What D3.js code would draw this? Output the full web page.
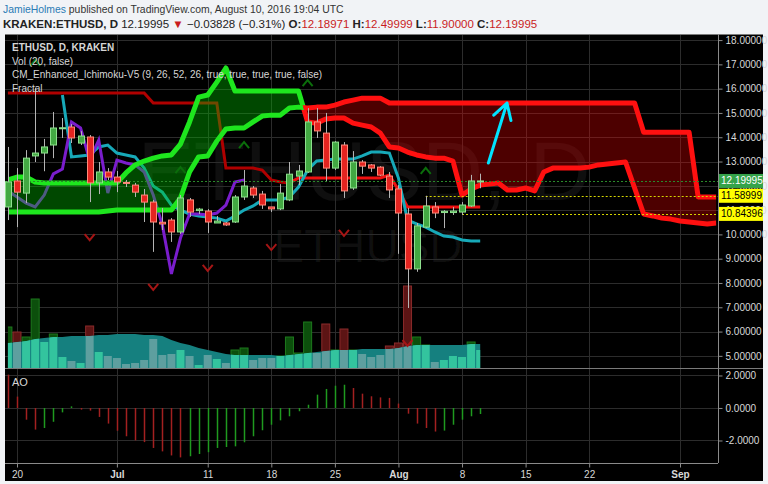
<!DOCTYPE html>
<html>
<head>
<meta charset="utf-8">
<script src="https://cdn.jsdelivr.net/npm/d3@7"></script>
<style>
body { margin: 0; background: #f1f3f6; }
svg { display: block; font-family: "Liberation Sans", Arial, sans-serif; }
</style>
</head>
<body>
<div class="chart"></div>
<script>
// ---- data ----
var firstDay = "2016-06-19";

var openP  = [11.13,12.20,11.70,13.23,13.35,13.68,14.36,14.42,13.76,14.01,12.12,12.57,12.36,12.14,12.03,11.62,11.33,10.50,10.59,10.10,11.42,10.98,10.96,10.47,10.47,10.51,11.54,11.91,11.66,11.13,11.05,11.42,12.40,12.57,14.63,14.17,12.73,13.68,11.91,12.98,12.86,12.77,12.40,11.87,10.84,8.58,10.30,11.13,10.90,10.90,10.92,11.17,12.19];
var highP  = [13.60,12.73,13.47,16.03,13.93,15.04,14.79,14.54,14.25,14.09,12.98,12.73,12.61,12.24,12.12,11.87,11.42,11.09,10.67,11.62,11.50,11.09,11.04,10.76,10.51,11.62,12.65,11.99,11.79,11.13,12.07,12.98,12.86,15.20,15.20,15.00,13.84,13.80,13.43,13.06,12.90,12.81,12.57,12.03,11.09,10.47,11.59,11.33,11.00,11.13,11.33,12.45,12.50];
var lowP   = [10.59,10.30,11.29,12.98,12.60,13.14,13.97,13.76,13.68,11.33,11.66,12.24,11.74,11.95,11.54,10.51,9.28,10.18,9.69,10.02,10.72,10.84,10.06,10.47,10.35,10.47,11.42,11.50,11.05,10.92,11.00,11.37,12.03,12.53,13.97,12.20,12.65,11.50,11.83,12.49,12.57,12.40,11.50,9.20,6.97,8.46,10.26,10.67,10.26,10.80,10.80,11.13,11.90];
var closeP = [12.16,11.74,13.14,13.35,13.60,14.38,14.39,13.97,14.05,12.12,12.57,12.36,12.16,12.10,11.74,11.33,10.51,10.43,10.10,11.50,10.92,11.04,10.51,10.55,10.39,11.54,11.99,11.62,11.21,11.05,11.70,12.48,12.61,14.63,14.26,12.73,13.80,11.79,12.98,12.81,12.73,12.44,11.83,10.88,8.58,10.35,11.17,10.88,10.95,10.96,11.21,12.20,12.20];

var volume   = [41,36,31,69,26,34,11,7,5,42,16,12,10,4,5,8,29,13,14,18,12,3,13,9,5,18,20,8,10,10,12,31,15,46,15,44,18,39,18,14,11,13,22,25,82,31,23,6,8,12,11,26,18];
var volumeMA = [25,26,27,29,30,31,31,32,32,32,33,33,34,34,34,33,33,32,28,25,23,20,18,16,14,13,13,13,13,13,12,13,14,15,16,17,18,18,18,19,19,19,19,20,22,23,23,23,23,23,23,24,24];

// conversion line starts on day 6
var tenkanStart = 6;
var tenkan = [15.74,13.19,13.23,13.27,13.60,13.68,13.35,13.27,13.19,12.73,11.99,11.74,11.21,11.00,10.84,10.76,10.72,10.67,10.55,10.76,11.00,11.17,11.42,11.42,11.42,11.54,11.95,12.65,13.02,13.06,13.10,13.10,13.10,13.23,13.39,13.39,13.35,12.32,10.59,10.43,10.30,10.10,9.93,9.89,9.77,9.73,9.73];
var kijun = [15.82,15.82,15.82,15.82,15.82,15.82,15.82,15.82,15.82,15.82,15.82,15.82,15.82,15.82,15.82,15.82,
  15.41,15.41,15.41,15.41,15.41,15.41,15.41,15.41,
  12.73,12.73,12.73,12.73,12.65,12.24,12.16,12.12,
  12.32,12.32,12.32,12.32,12.32,12.32,12.32,12.32,12.32,12.32,
  12.44,11.83,
  11.13,11.13,11.13,11.13,11.13,11.13,11.13,11.13,11.13];
var chikou = [11.79,11.54,11.29,11.13,11.62,12.49,12.69,14.63,14.38,13.06,13.88,11.70,13.06,12.94,12.86,12.57,11.62,10.39,8.37,9.85,10.84,10.84,10.80,10.88,11.21,12.16,12.24];

var leadA = [12.24,12.36,12.36,12.16,12.12,12.12,12.12,12.12,12.12,12.12,12.12,12.12,12.12,
  12.53,12.86,13.02,13.14,13.23,13.27,13.72,14.63,15.65,15.74,16.27,16.85,
  15.90,15.90,15.90,15.90,15.90,15.90,15.90,15.90,
  14.63,14.58,14.75,14.79,14.79,14.58,14.50,14.42,14.17,13.60,13.56,13.39,13.27,13.19,13.14,13.14,13.02,
  11.62,11.87,12.03,12.07,12.12,11.83,11.83,11.91,11.79,12.57,
  12.73,12.73,12.73,12.73,
  12.77,12.86,12.90,12.94,12.98,11.91,10.84,10.76,10.67,10.63,10.55,10.51,10.47,10.43,10.47];
var leadB = [10.92,10.92,10.92,10.92,10.92,10.92,10.92,10.92,10.92,10.92,10.92,10.96,
  11.00,11.00,11.00,11.00,11.00,11.00,11.00,
  11.50,12.57,13.19,13.23,13.84,14.34,14.38,14.38,14.63,14.87,14.91,14.91,15.20,15.24,15.20,15.24,15.24,15.32,15.45,15.53,15.61,15.61,15.61,
  15.41,15.41,15.41,15.41,15.41,15.41,15.41,15.41,15.41,15.41,15.41,15.41,15.41,15.41,
  15.41,15.41,15.41,15.41,15.41,15.41,15.41,15.41,15.41,15.41,15.41,15.41,15.41,15.41,
  14.21,14.21,14.21,14.21,14.21,14.21,
  11.54,11.54,11.54];

var aoValues = [2.05,0.70,-0.72,-1.33,-1.23,-0.85,-0.27,0.10,-0.10,-0.16,-0.55,-0.96,-1.40,-1.74,-1.99,-2.10,-2.46,-2.67,-2.92,-3.04,-2.97,-2.83,-2.72,-2.46,-2.40,-2.36,-2.11,-1.74,-1.37,-1.03,-0.76,-0.51,-0.20,0.20,0.82,1.17,1.37,1.43,1.23,0.88,0.72,0.65,0.62,0.27,-0.35,-0.96,-1.23,-1.45,-1.39,-1.03,-0.72,-0.51,-0.37];

var upFractals = [3,19,26,33,46];
var downFractals = [9,16,22,29,37,44];

var lastPrice = 12.19995;
var levelValues = [11.58999, 10.84396];
var levelFrom = [46, 50];
var arrowDays = [52.9, 54.95];
var arrowPrices = [12.94, 15.41];

var priceTicks = [5,6,7,8,9,10,11,12,13,14,15,16,17,18];
var aoTicks = [-2,0,2];
var dateTicks = ["2016-06-20","2016-07-01","2016-07-11","2016-07-18","2016-07-25","2016-08-01","2016-08-08","2016-08-15","2016-08-22","2016-09-01"];
var dateTickLabels = ["20","Jul","11","18","25","Aug","8","15","22","Sep"];

// ---- layout ----
var svgWidth = 768;
var svgHeight = 484;
var paneLeft = 5, axisX = 718, outerRight = 763;
var paneTop = 34, priceBottom = 368, aoBottom = 463, outerBottom = 481;

var svg = d3.select(".chart")
	.append("svg")
	.attr("width", svgWidth)
	.attr("height", svgHeight);

svg.append("rect")
	.attr("x", paneLeft).attr("y", paneTop)
	.attr("width", outerRight - paneLeft).attr("height", outerBottom - paneTop)
	.attr("fill", "#000");

var parseDate = d3.utcParse("%Y-%m-%d");
var start = parseDate(firstDay);

var x = d3.scaleUtc()
	.domain([parseDate("2016-06-20"), parseDate("2016-09-01")])
	.range([17, 680]);
var y = d3.scaleLinear().domain([4.5, 18.25]).range([priceBottom, paneTop]);
var yVol = d3.scaleLinear().domain([0, 88]).range([priceBottom, 280]);
var yAO = d3.scaleLinear().domain([-3.385, 2.46]).range([aoBottom, priceBottom]);

function dayX(i) {
	return x(new Date(start.getTime() + i * 864e5));
}

var defs = svg.append("defs");
defs.append("clipPath").attr("id", "priceClip")
	.append("rect").attr("x", paneLeft).attr("y", paneTop)
	.attr("width", axisX - paneLeft).attr("height", priceBottom - paneTop);

// watermark
svg.append("text")
	.attr("x", 364).attr("y", 200)
	.attr("text-anchor", "middle")
	.attr("font-size", 84)
	.attr("fill", "#fff").attr("fill-opacity", 0.06)
	.text("ETHUSD, D");
svg.append("text")
	.attr("x", 368).attr("y", 262)
	.attr("text-anchor", "middle")
	.attr("font-size", 46)
	.attr("fill", "#fff").attr("fill-opacity", 0.06)
	.text("ETHUSD");

// grid
var grid = svg.append("g").attr("stroke", "#2c2c2c").attr("stroke-width", 1);
grid.selectAll(".gy").data(priceTicks).enter().append("line")
	.attr("x1", paneLeft).attr("x2", axisX)
	.attr("y1", function(d){ return Math.round(y(d)) + 0.5; })
	.attr("y2", function(d){ return Math.round(y(d)) + 0.5; });
grid.selectAll(".ga").data(aoTicks).enter().append("line")
	.attr("x1", paneLeft).attr("x2", axisX)
	.attr("y1", function(d){ return Math.round(yAO(d)) + 0.5; })
	.attr("y2", function(d){ return Math.round(yAO(d)) + 0.5; });
grid.selectAll(".gx").data(dateTicks).enter().append("line")
	.attr("x1", function(d){ return Math.round(x(parseDate(d))) + 0.5; })
	.attr("x2", function(d){ return Math.round(x(parseDate(d))) + 0.5; })
	.attr("y1", paneTop).attr("y2", aoBottom);

var plot = svg.append("g").attr("clip-path", "url(#priceClip)");
var idx = d3.range(openP.length);
function isUp(i) { return closeP[i] >= openP[i]; }

// volume + MA area
var volArea = d3.area()
	.x(function(i){ return dayX(i); })
	.y0(priceBottom)
	.y1(function(i){ return yVol(volumeMA[i]); });
defs.append("clipPath").attr("id", "volIn").append("path").attr("d", volArea(idx));
defs.append("clipPath").attr("id", "volOut").append("path")
	.attr("d", d3.area().x(function(i){ return dayX(i); }).y0(paneTop).y1(function(i){ return yVol(volumeMA[i]); })(idx));

plot.append("path").attr("d", volArea(idx)).attr("fill", "#15807f");

function volBars(g, upColor, downColor, stroke) {
	g.selectAll("rect").data(idx).enter().append("rect")
		.attr("x", function(i){ return dayX(i) - 4; })
		.attr("width", 8)
		.attr("y", function(i){ return yVol(volume[i]); })
		.attr("height", function(i){ return priceBottom - yVol(volume[i]); })
		.attr("fill", function(i){ return isUp(i) ? upColor : downColor; })
		.attr("stroke", stroke ? function(i){ return isUp(i) ? "#1d781d" : "#8a2a2a"; } : "none");
}
volBars(plot.append("g").attr("clip-path", "url(#volOut)"), "#0c4f0c", "#5c1414", true);
volBars(plot.append("g").attr("clip-path", "url(#volIn)"), "#33c49e", "#5e9f9f", false);

// base line, conversion line, lagging span
var kijunSplit = 31;
var lineGen = d3.line().x(function(d){ return dayX(d[0]); }).y(function(d){ return y(d[1]); });
var kijunPts = kijun.map(function(v, i){ return [i, v]; });
plot.append("path").attr("d", lineGen(kijunPts.slice(0, kijunSplit + 1)))
	.attr("fill", "none").attr("stroke", "#b00000").attr("stroke-width", 3);
plot.append("path").attr("d", lineGen(kijunPts.slice(kijunSplit)))
	.attr("fill", "none").attr("stroke", "#f01010").attr("stroke-width", 3);
plot.append("path").attr("d", lineGen(tenkan.map(function(v, i){ return [i + tenkanStart, v]; })))
	.attr("fill", "none").attr("stroke", "#17a9b8").attr("stroke-width", 3);
plot.append("path").attr("d", lineGen(chikou.map(function(v, i){ return [i, v]; })))
	.attr("fill", "none").attr("stroke", "#7a1dcc").attr("stroke-width", 3);

// cloud
var cloudIdx = d3.range(leadA.length);
var between = d3.area().x(function(i){ return dayX(i); })
	.y0(function(i){ return y(leadB[i]); }).y1(function(i){ return y(leadA[i]); });
function clipArea(id, lead, edge) {
	defs.append("clipPath").attr("id", id).append("path")
		.attr("d", d3.area().x(function(i){ return dayX(i); })
			.y0(edge).y1(function(i){ return y(lead[i]); })(cloudIdx));
}
clipArea("aboveA", leadA, paneTop);
clipArea("belowA", leadA, priceBottom);
clipArea("aboveB", leadB, paneTop);
clipArea("belowB", leadB, priceBottom);

plot.append("path").attr("d", between(cloudIdx)).attr("clip-path", "url(#aboveB)")
	.attr("fill", "#00c800").attr("fill-opacity", 0.36);
plot.append("path").attr("d", between(cloudIdx)).attr("clip-path", "url(#aboveA)")
	.attr("fill", "#ff0000").attr("fill-opacity", 0.3);

var leadLine = function(lead) {
	return d3.line().x(function(i){ return dayX(i); }).y(function(i){ return y(lead[i]); })(cloudIdx);
};
[["aboveB", leadA, "#1ee61e"], ["belowB", leadA, "#ff1010"], ["belowA", leadB, "#1ee61e"], ["aboveA", leadB, "#ff1010"]]
	.forEach(function(s) {
		plot.append("path").attr("d", leadLine(s[1]))
			.attr("clip-path", "url(#" + s[0] + ")")
			.attr("fill", "none").attr("stroke", s[2]).attr("stroke-width", 5)
			.attr("stroke-linejoin", "round");
	});

// price lines
plot.append("line")
	.attr("x1", paneLeft).attr("x2", axisX)
	.attr("y1", Math.round(y(lastPrice)) + 0.5).attr("y2", Math.round(y(lastPrice)) + 0.5)
	.attr("stroke", "#2a8a2a").attr("stroke-dasharray", "2,2");
plot.selectAll(".lvl").data(levelValues).enter().append("line")
	.attr("x1", function(d, i){ return dayX(levelFrom[i]); }).attr("x2", axisX)
	.attr("y1", function(d){ return Math.round(y(d)) + 0.5; })
	.attr("y2", function(d){ return Math.round(y(d)) + 0.5; })
	.attr("stroke", "#d6d600").attr("stroke-dasharray", "2,2");

// candles
var candle = plot.selectAll(".candle").data(idx).enter().append("g");
candle.append("line")
	.attr("x1", function(i){ return Math.round(dayX(i)) + 0.5; })
	.attr("x2", function(i){ return Math.round(dayX(i)) + 0.5; })
	.attr("y1", function(i){ return y(highP[i]); })
	.attr("y2", function(i){ return y(lowP[i]); })
	.attr("stroke", "#b4b4b4");
candle.append("rect")
	.attr("x", function(i){ return Math.round(dayX(i)) - 2.5; })
	.attr("width", 6)
	.attr("y", function(i){ return y(Math.max(openP[i], closeP[i])); })
	.attr("height", function(i){ return Math.max(1, Math.abs(y(openP[i]) - y(closeP[i]))); })
	.attr("fill", function(i){ return isUp(i) ? "#43a843" : "#e42420"; })
	.attr("stroke", function(i){ return isUp(i) ? "#8ee08e" : "#ff8a7a"; })
	.attr("stroke-width", 1);

// fractals
plot.selectAll(".fu").data(upFractals).enter().append("path")
	.attr("d", "M-5,3L0,-3L5,3")
	.attr("transform", function(i){ return "translate(" + dayX(i) + "," + (y(highP[i]) - 25) + ")"; })
	.attr("fill", "none").attr("stroke", "#0b6e0b").attr("stroke-width", 2);
plot.selectAll(".fd").data(downFractals).enter().append("path")
	.attr("d", "M-5,-3L0,3L5,-3")
	.attr("transform", function(i){ return "translate(" + dayX(i) + "," + (y(lowP[i]) + 35) + ")"; })
	.attr("fill", "none").attr("stroke", "#a51515").attr("stroke-width", 2);

// arrow drawing
var ax0 = dayX(arrowDays[0]), ay0 = y(arrowPrices[0]);
var ax1 = dayX(arrowDays[1]), ay1 = y(arrowPrices[1]);
var ang = Math.atan2(ay0 - ay1, ax0 - ax1);
var head = 18, spread = Math.PI / 6;
plot.append("path")
	.attr("d", "M" + ax0 + "," + ay0 + "L" + ax1 + "," + ay1 +
		"M" + (ax1 + head * Math.cos(ang + spread)) + "," + (ay1 + head * Math.sin(ang + spread)) +
		"L" + ax1 + "," + ay1 +
		"L" + (ax1 + head * Math.cos(ang - spread)) + "," + (ay1 + head * Math.sin(ang - spread)))
	.attr("fill", "none").attr("stroke", "#00e4ff").attr("stroke-width", 3)
	.attr("stroke-linecap", "round").attr("stroke-linejoin", "round");

// AO histogram
svg.append("g").selectAll("line").data(idx).enter().append("line")
	.attr("x1", function(i){ return Math.round(dayX(i)) + 0.5; })
	.attr("x2", function(i){ return Math.round(dayX(i)) + 0.5; })
	.attr("y1", yAO(0))
	.attr("y2", function(i){ return yAO(aoValues[i]); })
	.attr("stroke", function(i){ return (i > 0 && aoValues[i] > aoValues[i - 1]) ? "#1f9a1f" : "#a32020"; })
	.attr("stroke-width", 1.5);

// frame lines
var frame = svg.append("g").attr("stroke", "#7a7a7a");
frame.append("line").attr("x1", paneLeft).attr("x2", outerRight).attr("y1", paneTop + 0.5).attr("y2", paneTop + 0.5);
frame.append("line").attr("x1", paneLeft).attr("x2", outerRight).attr("y1", priceBottom + 0.5).attr("y2", priceBottom + 0.5);

// axes
function styleAxis(g) {
	g.selectAll("path.domain").attr("stroke", "#8a8a8a");
	g.selectAll(".tick line").attr("stroke", "#8a8a8a");
	g.selectAll(".tick text").attr("fill", "#d8d8d8").attr("font-size", 10)
		.attr("font-family", "'Liberation Sans', Arial, sans-serif");
}
var priceAxis = svg.append("g")
	.attr("transform", "translate(" + (axisX + 0.5) + ",0)")
	.call(d3.axisRight(y).tickValues(priceTicks).tickFormat(d3.format(".5f")).tickSize(4).tickPadding(3).tickSizeOuter(0));
styleAxis(priceAxis);
priceAxis.select("path.domain").attr("d", "M0," + paneTop + "V" + priceBottom);

var aoAxis = svg.append("g")
	.attr("transform", "translate(" + (axisX + 0.5) + ",0)")
	.call(d3.axisRight(yAO).tickValues(aoTicks)
		.tickFormat(function(d){ return d3.format(".4f")(d).replace("\u2212", "-"); })
		.tickSize(4).tickPadding(3).tickSizeOuter(0));
styleAxis(aoAxis);
aoAxis.select("path.domain").attr("d", "M0," + priceBottom + "V" + aoBottom);

var timeAxis = svg.append("g")
	.attr("transform", "translate(0," + (aoBottom + 0.5) + ")")
	.call(d3.axisBottom(x).tickValues(dateTicks.map(parseDate))
		.tickFormat(function(d, i){ return dateTickLabels[i]; })
		.tickSize(4).tickPadding(3).tickSizeOuter(0));
styleAxis(timeAxis);
timeAxis.select("path.domain").attr("d", "M" + paneLeft + ",0H" + axisX);
timeAxis.selectAll(".tick text")
	.attr("font-weight", function(d, i){ return isNaN(+dateTickLabels[i]) ? "bold" : "normal"; });

// last price + level labels on the price axis
var tags = [[lastPrice, "#35a34a", "#fff"], [levelValues[0], "#ffff00", "#000"], [levelValues[1], "#ffff00", "#000"]];
tags.forEach(function(t) {
	svg.append("rect")
		.attr("x", axisX + 1).attr("y", y(t[0]) - 7)
		.attr("width", outerRight - axisX - 1).attr("height", 14)
		.attr("fill", t[1]);
	svg.append("text")
		.attr("x", axisX + 3).attr("y", y(t[0]) + 3.5)
		.attr("font-size", 10).attr("fill", t[2])
		.text(d3.format(".5f")(t[0]));
});

// legend in panes
var legend = svg.append("g").attr("font-size", 10).attr("fill", "#d6d6d6");
legend.append("text").attr("x", 12).attr("y", 51).attr("font-weight", "bold").text("ETHUSD, D, KRAKEN");
legend.append("text").attr("x", 12).attr("y", 64.5).text("Vol (20, false)");
legend.append("text").attr("x", 12).attr("y", 78).text("CM_Enhanced_Ichimoku-V5 (9, 26, 52, 26, true, true, true, true, false)");
legend.append("text").attr("x", 12).attr("y", 91.5).text("Fractal");
legend.append("text").attr("x", 12).attr("y", 386).attr("font-size", 11).text("AO");

// header
var h1 = svg.append("text").attr("x", 3).attr("y", 13).attr("font-size", 10.4).attr("fill", "#333");
h1.append("tspan").attr("fill", "#2a7bb5").text("JamieHolmes");
h1.append("tspan").text(" published on TradingView.com, August 10, 2016 19:04 UTC");

var h2 = svg.append("text").attr("x", 3).attr("y", 27.5).attr("font-size", 11.5).attr("fill", "#222");
h2.append("tspan").attr("font-weight", "bold").text("KRAKEN:ETHUSD, D");
h2.append("tspan").text(" 12.19995 ");
h2.append("tspan").attr("fill", "#c91d1d").text("\u25BC");
h2.append("tspan").text(" \u22120.03828 (\u22120.31%) ");
[["O:", "12.18971"], ["H:", "12.49999"], ["L:", "11.90000"], ["C:", "12.19995"]].forEach(function(p, k) {
	h2.append("tspan").attr("font-weight", "bold").text((k ? " " : "") + p[0]);
	h2.append("tspan").attr("fill", "#c91d1d").text(p[1]);
});
</script>
</body>
</html>
